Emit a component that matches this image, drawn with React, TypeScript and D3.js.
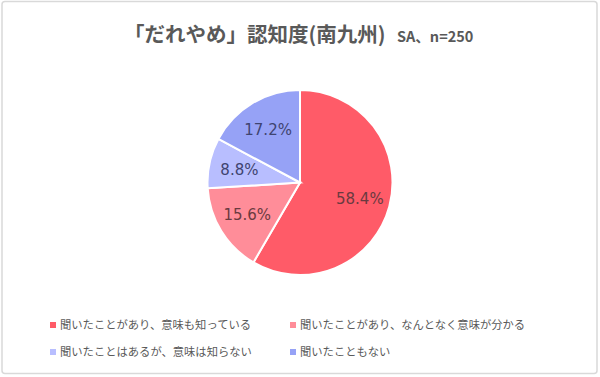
import React from "react";
import * as d3 from "d3";

const categories = [
  "聞いたことがあり、意味も知っている",
  "聞いたことがあり、なんとなく意味が分かる",
  "聞いたことはあるが、意味は知らない",
  "聞いたこともない",
];
const values = [58.4, 15.6, 8.8, 17.2];
const colors = ["#FF5B68", "#FF8D99", "#B8BEFF", "#96A2F6"];
const labelColors = ["#6a3a40", "#6a3a40", "#3f4470", "#3f4470"];
const title = "「だれやめ」認知度(南九州)";
const subtitle = "SA、n=250";

export default function App() {
  const W = 600, H = 377;
  const cx = 300, cy = 182.5, R = 92.5;
  const pie = d3.pie<number>().sort(null).value((d) => d);
  const arcs = pie(values);
  const arc = d3.arc<d3.PieArcDatum<number>>().innerRadius(0).outerRadius(R);
  const labelArc = d3.arc<d3.PieArcDatum<number>>().innerRadius(62).outerRadius(62);
  const legendPos = [
    [50, 325],
    [290, 325],
    [50, 352],
    [290, 352],
  ];
  return (
    <svg width={W} height={H} style={{ position: "absolute", left: 0, top: 0 }}
      fontFamily="'Noto Sans CJK JP', 'Noto Sans', sans-serif">
      <rect x={0} y={0} width={W} height={H} fill="#ffffff" />
      <rect x={2} y={1.5} width={W - 5} height={H - 5} rx={3} fill="#ffffff" stroke="#d9d9d9" strokeWidth={1.5} />
      <text x={124} y={42} fontSize={20.5} fontWeight="bold" fill="#595959">{title}</text>
      <text x={397} y={42} fontSize={14.5} fontWeight="bold" fill="#595959">{subtitle}</text>
      <g transform={`translate(${cx},${cy})`}>
        {arcs.map((a, i) => (
          <path key={i} d={arc(a) || ""} fill={colors[i]} stroke="#ffffff" strokeWidth={2} />
        ))}
        {arcs.map((a, i) => {
          const [x, y] = labelArc.centroid(a);
          return (
            <text key={i} x={x} y={y} dy="0.35em" textAnchor="middle" fontSize={15}
              fontFamily="'DejaVu Sans', sans-serif" fill={labelColors[i]}>
              {values[i].toFixed(1)}%
            </text>
          );
        })}
      </g>
      {categories.map((c, i) => (
        <g key={i}>
          <rect x={legendPos[i][0]} y={legendPos[i][1] - 3} width={6} height={6} fill={colors[i]} />
          <text x={legendPos[i][0] + 10} y={legendPos[i][1]} dy="0.35em" fontSize={11.3} fill="#595959">{c}</text>
        </g>
      ))}
    </svg>
  );
}
